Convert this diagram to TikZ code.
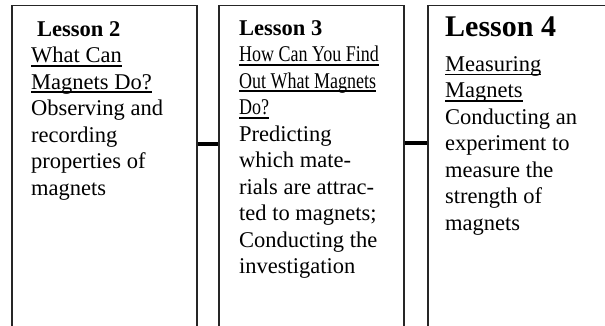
\documentclass[tikz,border=0pt]{standalone}
\usepackage{fontspec}
\setmainfont{Liberation Serif}
\usetikzlibrary{positioning, calc}
\tikzset{
  lessonbox/.style={draw=black!85, line width=1.5pt, minimum width=185pt, minimum height=360pt, inner sep=0pt, anchor=north west},
  lessontext/.style={anchor=north west, align=left, inner sep=0pt, font=\fontsize{22.5}{26.5}\selectfont},
  link/.style={line width=4.5pt},
}
\newcommand{\topicul}[1]{\setbox0\hbox{#1}\rlap{\rule[-4pt]{\wd0}{1.6pt}}\box0}
\newcommand{\squeeze}[1]{\scalebox{0.8}[1]{#1}}

\begin{document}
\begin{tikzpicture}[x=1pt,y=1pt]
    \useasboundingbox (0,0) rectangle (605,326);
    \clip (0,0) rectangle (605,326);

    % Lesson boxes (they run off the bottom of the page)
    \node[lessonbox] (lessontwo) at (11,321) {};
    \node[lessonbox] (lessonthree) at (218,321) {};
    \node[lessonbox, minimum width=200pt] (lessonfour) at (427,321) {};

    % Links between the boxes
    \draw[link] ([yshift=-139pt]lessontwo.north east) -- ([yshift=-139pt]lessonthree.north west);
    \draw[link] ([yshift=-138pt]lessonthree.north east) -- ([yshift=-138pt]lessonfour.north west);

    % Box texts
    \node[lessontext] (texttwo) at ([xshift=20pt,yshift=-16pt]lessontwo.north west)
        {\hspace*{6pt}\textbf{Lesson 2}\\ \topicul{What Can}\\ \topicul{Magnets Do?}\\
         Observing and\\ recording\\ properties of\\ magnets};
    \node[lessontext] (textthree) at ([xshift=21pt,yshift=-15pt]lessonthree.north west)
        {\textbf{Lesson 3}\\ \topicul{\squeeze{How Can You Find}}\\ \topicul{\squeeze{Out What Magnets}}\\
         \topicul{\squeeze{Do?}}\\ Predicting\\ which mate-\\ rials are attrac-\\ ted to magnets;\\
         Conducting the\\ investigation};
    \node[lessontext] (textfour) at ([xshift=18pt,yshift=-12pt]lessonfour.north west)
        {\textbf{\fontsize{30}{30}\selectfont Lesson 4}\\[8pt] \topicul{Measuring}\\ \topicul{Magnets}\\
         Conducting an\\ experiment to\\ measure the\\ strength of\\ magnets};
\end{tikzpicture}
\end{document}
